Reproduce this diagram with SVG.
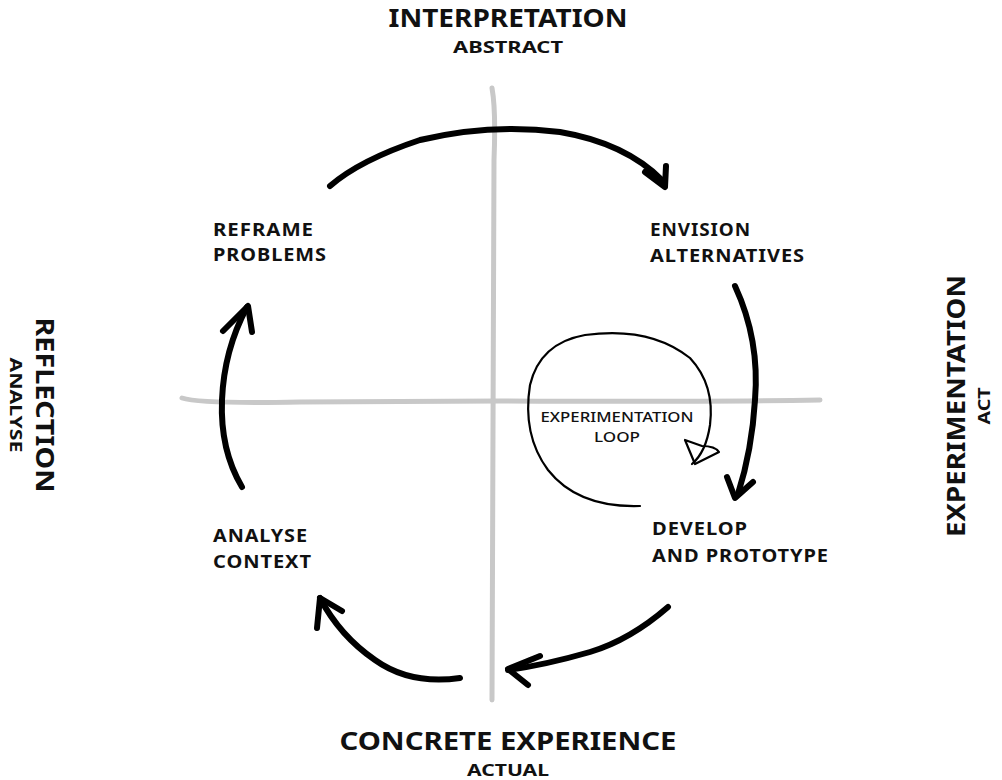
<svg xmlns="http://www.w3.org/2000/svg" width="1002" height="780" viewBox="0 0 1002 780">
  <style>
    text { font-family: "Noto Sans", "DejaVu Sans", sans-serif; fill: #111; }
    .axis { fill: none; stroke: #c8c8c8; stroke-width: 5; stroke-linecap: round; }
    .flow { fill: none; stroke: #000; stroke-width: 6; stroke-linecap: round; stroke-linejoin: round; }
    .loop { fill: none; stroke: #000; stroke-width: 2.2; stroke-linecap: round; stroke-linejoin: round; }
    .title { font-size: 25px; font-weight: 700; }
    .sub { font-size: 16px; font-weight: 700; }
    .node { font-size: 17px; font-weight: 700; letter-spacing: 0.8px; }
    .small { font-size: 14px; font-weight: 500; }
  </style>
  <rect width="1002" height="780" fill="#fff"/>

  <!-- quadrant axes -->
  <g id="axes">
    <path class="axis" d="M 492 88 Q 496 110 494 160 L 492 700"/>
    <path class="axis" d="M 182 398 Q 200 404 300 402 L 500 401 Q 700 402 820 400"/>
  </g>

  <!-- axis labels -->
  <g id="label-top">
    <text class="title" x="508" y="27" text-anchor="middle" textLength="239" lengthAdjust="spacingAndGlyphs">INTERPRETATION</text>
    <text class="sub" x="508" y="53" text-anchor="middle" textLength="110" lengthAdjust="spacingAndGlyphs">ABSTRACT</text>
  </g>
  <g id="label-bottom">
    <text class="title" x="508" y="750" text-anchor="middle" textLength="337" lengthAdjust="spacingAndGlyphs">CONCRETE EXPERIENCE</text>
    <text class="sub" x="508" y="776" text-anchor="middle" textLength="82" lengthAdjust="spacingAndGlyphs">ACTUAL</text>
  </g>
  <g id="label-left">
    <text class="title" transform="translate(36 405) rotate(90)" text-anchor="middle" textLength="175" lengthAdjust="spacingAndGlyphs">REFLECTION</text>
    <text class="sub" transform="translate(10 405) rotate(90)" text-anchor="middle" font-size="15" textLength="95" lengthAdjust="spacingAndGlyphs">ANALYSE</text>
  </g>
  <g id="label-right">
    <text class="title" transform="translate(965 406) rotate(-90)" text-anchor="middle" textLength="262" lengthAdjust="spacingAndGlyphs">EXPERIMENTATION</text>
    <text class="sub" transform="translate(990 406) rotate(-90)" text-anchor="middle" font-size="15" textLength="37" lengthAdjust="spacingAndGlyphs">ACT</text>
  </g>

  <!-- stages -->
  <g id="reframe">
    <text class="node" x="213" y="236" textLength="101" lengthAdjust="spacingAndGlyphs">REFRAME</text>
    <text class="node" x="213" y="261" textLength="114" lengthAdjust="spacingAndGlyphs">PROBLEMS</text>
  </g>
  <g id="envision">
    <text class="node" x="650" y="236" textLength="101" lengthAdjust="spacingAndGlyphs">ENVISION</text>
    <text class="node" x="650" y="262" textLength="155" lengthAdjust="spacingAndGlyphs">ALTERNATIVES</text>
  </g>
  <g id="develop">
    <text class="node" x="652" y="535" textLength="96" lengthAdjust="spacingAndGlyphs">DEVELOP</text>
    <text class="node" x="652" y="562" textLength="177" lengthAdjust="spacingAndGlyphs">AND PROTOTYPE</text>
  </g>
  <g id="analyse">
    <text class="node" x="213" y="542" textLength="95" lengthAdjust="spacingAndGlyphs">ANALYSE</text>
    <text class="node" x="213" y="568" textLength="99" lengthAdjust="spacingAndGlyphs">CONTEXT</text>
  </g>
  <g id="experimentation-loop">
    <path class="loop" d="M 640 506 Q 578 508 548 470 Q 522 435 530 385 Q 540 343 585 335 Q 650 326 690 358 Q 715 385 710 425 Q 706 452 692 464"/>
    <path class="loop" d="M 685 440 L 695 464 L 719 452 Q 715 446 702 446 Z"/>
    <text class="small" x="617" y="422" text-anchor="middle" textLength="153" lengthAdjust="spacingAndGlyphs">EXPERIMENTATION</text>
    <text class="small" x="617" y="442" text-anchor="middle" textLength="46" lengthAdjust="spacingAndGlyphs">LOOP</text>
  </g>

  <!-- cycle arrows -->
  <g id="connectors">
    <path class="flow" d="M 330 186 Q 360 160 420 140 Q 490 123 560 132 Q 625 143 662 180"/>
    <path class="flow" d="M 645 172 L 665 187 L 666 166"/>
    <path class="flow" d="M 735 286 Q 760 340 755 400 Q 752 450 738 494"/>
    <path class="flow" d="M 727 477 L 735 498 L 753 482"/>
    <path class="flow" d="M 668 607 Q 630 640 590 652 Q 545 665 508 670"/>
    <path class="flow" d="M 540 656 L 508 669 L 528 685"/>
    <path class="flow" d="M 460 678 Q 410 685 375 660 Q 340 636 320 598"/>
    <path class="flow" d="M 317 628 L 320 598 L 342 611"/>
    <path class="flow" d="M 242 487 Q 220 450 222 400 Q 224 350 247 307"/>
    <path class="flow" d="M 223 331 L 248 306 L 252 332"/>
  </g>
</svg>
